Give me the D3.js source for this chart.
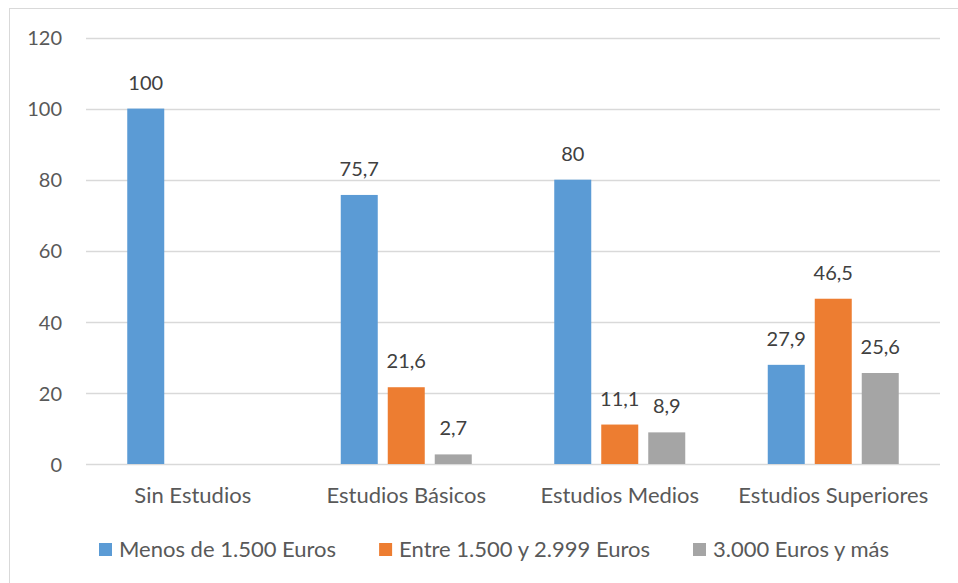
<!DOCTYPE html>
<html>
<head>
<meta charset="utf-8">
<script src="https://cdn.jsdelivr.net/npm/d3@7"></script>
<style>
  html, body { margin: 0; padding: 0; background: #fff; }
  svg { display: block; font-family: Lato, "Open Sans", sans-serif; }
</style>
</head>
<body>
<svg id="chart" width="958" height="583"></svg>
<script>
// Nivel de estudios vs. ingresos (%)
const categories = ["Sin Estudios", "Estudios Básicos", "Estudios Medios", "Estudios Superiores"];
const seriesNames = ["Menos de 1.500 Euros", "Entre 1.500 y 2.999 Euros", "3.000 Euros y más"];
const menos1500 = [100, 75.7, 80, 27.9];
const entre1500y2999 = [null, 21.6, 11.1, 46.5];
const mas3000 = [null, 2.7, 8.9, 25.6];
const yTicks = [0, 20, 40, 60, 80, 100, 120];
const colors = ["#5b9bd5", "#ed7d31", "#a5a5a5"];

const seriesValues = [menos1500, entre1500y2999, mas3000];
const fmt = v => String(v).replace(".", ",");
const numSize = 20;
const textSize = 22;

const svg = d3.select("#chart");

// Chart frame
svg.append("rect")
  .attr("x", 9.5).attr("y", 8.5)
  .attr("width", 980).attr("height", 600)
  .attr("fill", "none").attr("stroke", "#d9d9d9").attr("stroke-width", 1);

const plot = { left: 86, right: 940, top: 37.5, bottom: 464 };

const x0 = d3.scaleBand().domain(categories).range([plot.left, plot.right]).padding(0);
const clusterWidth = 131;
const x1 = d3.scaleBand().domain(seriesNames)
  .range([0, clusterWidth]).paddingInner(10 / 47).paddingOuter(0);
const y = d3.scaleLinear().domain([0, 120]).range([plot.bottom, plot.top]);

// Gridlines
svg.append("g").selectAll("line").data(yTicks).join("line")
  .attr("x1", plot.left).attr("x2", plot.right)
  .attr("y1", d => Math.round(y(d)) + 0.5).attr("y2", d => Math.round(y(d)) + 0.5)
  .attr("stroke", "#d9d9d9").attr("stroke-width", 1.3);

// Y axis labels
const yAxis = d3.axisLeft(y).tickValues(yTicks).tickSize(0).tickPadding(0);
const yg = svg.append("g").attr("transform", `translate(${plot.left - 24},0)`).call(yAxis);
yg.select(".domain").remove();
yg.selectAll("text")
  .attr("fill", "#595959").attr("font-size", numSize)
  .attr("font-family", "Lato, 'Open Sans', sans-serif")
  .attr("dy", "0.36em");

// Bars
const groups = svg.append("g").selectAll("g").data(categories).join("g")
  .attr("transform", c => `translate(${x0(c) + (x0.bandwidth() - clusterWidth) / 2},0)`);

seriesNames.forEach((s, si) => {
  const vals = seriesValues[si];
  groups.filter((c, ci) => vals[ci] != null).each(function(c) {
    const ci = categories.indexOf(c);
    const v = vals[ci];
    const g = d3.select(this);
    g.append("rect")
      .attr("x", x1(s)).attr("width", x1.bandwidth())
      .attr("y", y(v)).attr("height", y(0) - y(v))
      .attr("fill", colors[si]);
    g.append("text")
      .attr("x", x1(s) + x1.bandwidth() / 2)
      .attr("y", y(v) - 19)
      .attr("text-anchor", "middle")
      .attr("fill", "#404040").attr("font-size", numSize)
      .text(fmt(v));
  });
});

// X axis category labels
const xAxis = d3.axisBottom(x0).tickSize(0).tickPadding(0);
const xg = svg.append("g").attr("transform", `translate(0,${plot.bottom})`).call(xAxis);
xg.select(".domain").remove();
xg.selectAll("text")
  .attr("fill", "#595959").attr("font-size", textSize)
  .attr("font-family", "Lato, 'Open Sans', sans-serif")
  .attr("dy", 0).attr("y", 39);

// Legend
const legend = svg.append("g");
const items = legend.selectAll("g").data(seriesNames).join("g");
items.append("rect").attr("width", 13).attr("height", 13).attr("y", -14)
  .attr("fill", (d, i) => colors[i]);
items.append("text").attr("x", 20).attr("y", 0)
  .attr("fill", "#595959").attr("font-size", textSize)
  .text(d => d);
const widths = [];
items.each(function() { widths.push(this.getBBox().width); });
const gap = 43;
const total = d3.sum(widths) + gap * (widths.length - 1);
let cx = 494 - total / 2;
items.attr("transform", (d, i) => {
  const t = `translate(${cx},557)`;
  cx += widths[i] + gap;
  return t;
});
</script>
</body>
</html>
